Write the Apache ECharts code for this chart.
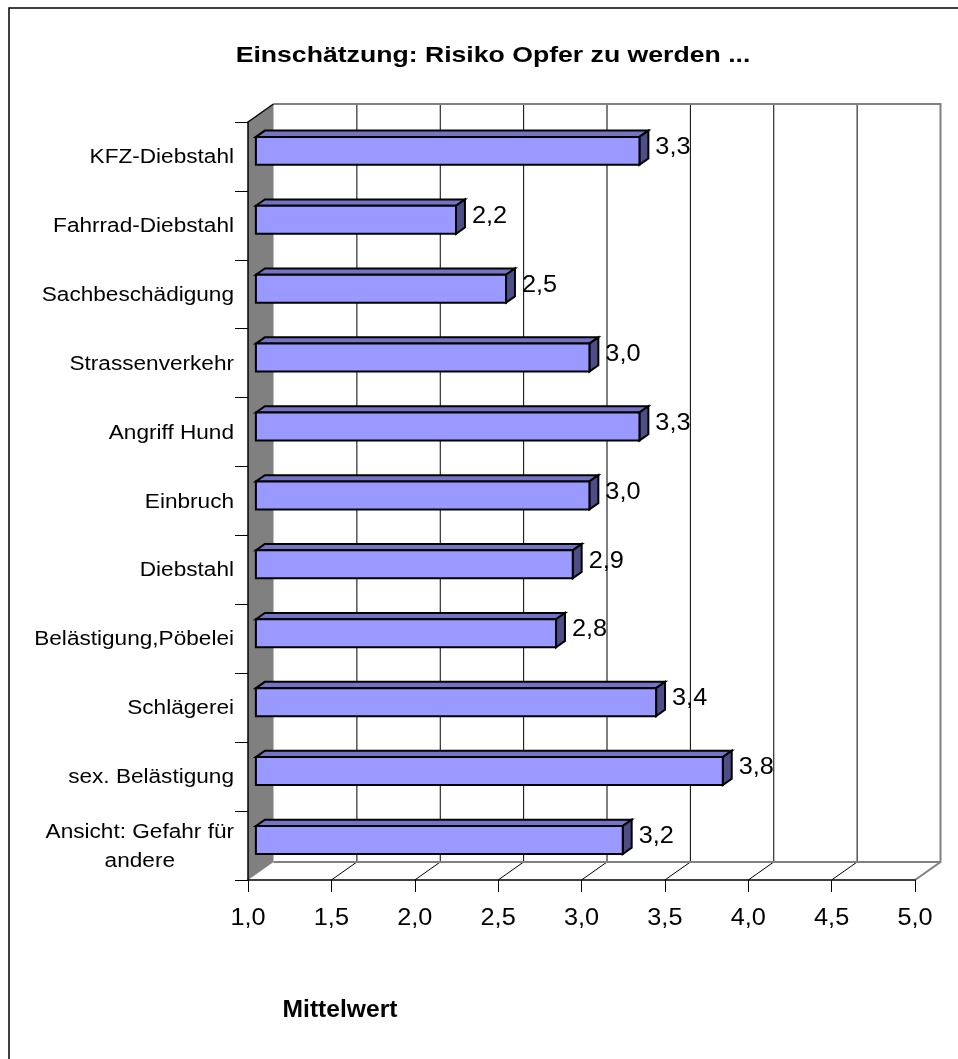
<!DOCTYPE html>
<html>
<head>
<meta charset="utf-8">
<title>Einschätzung: Risiko Opfer zu werden</title>
<script src="https://cdn.jsdelivr.net/npm/echarts@6/dist/echarts.min.js"></script>
<style>
  html, body { margin: 0; padding: 0; background: #fff; }
  #chart { width: 958px; height: 1059px; }
</style>
</head>
<body>
<div id="chart"></div>
<script>
// Survey means: perceived risk of becoming a victim
const categories = [
  'KFZ-Diebstahl',
  'Fahrrad-Diebstahl',
  'Sachbeschädigung',
  'Strassenverkehr',
  'Angriff Hund',
  'Einbruch',
  'Diebstahl',
  'Belästigung,Pöbelei',
  'Schlägerei',
  'sex. Belästigung',
  'Ansicht: Gefahr für\nandere'
];
const meanValues = [3.3, 2.2, 2.5, 3.0, 3.3, 3.0, 2.9, 2.8, 3.4, 3.8, 3.2];
const xTicks = [1.0, 1.5, 2.0, 2.5, 3.0, 3.5, 4.0, 4.5, 5.0];
const titleText = 'Einschätzung: Risiko Opfer zu werden ...';
const axisTitleText = 'Mittelwert';

// Pseudo-3D projection: shift per unit of depth
const DX = 25.5;
const DY = -18;
const BAR_FRONT = 0.31;   // depth of the bar's front face
const BAR_BACK = 0.66;    // depth of the bar's back face
const BAR_SHARE = 0.406;  // bar height as share of a category band

const FONT = '"Liberation Sans", Arial, Helvetica, sans-serif';
const fmt = v => v.toFixed(1).replace('.', ',');

function depth(pt, f) {
  return [pt[0] + DX * f, pt[1] + DY * f];
}

function seg(a, b) {
  return { x1: a[0], y1: a[1], x2: b[0], y2: b[1] };
}

// Back wall, side wall, floor and their grid lines
function renderWalls(params, api) {
  const cs = params.coordSys;
  const top = cs.y, bot = cs.y + cs.height;
  const xL = api.coord([xTicks[0], 0])[0];
  const xR = api.coord([xTicks[xTicks.length - 1], 0])[0];
  const children = [];
  // back wall
  children.push({
    type: 'polygon',
    shape: { points: [depth([xL, top], 1), depth([xR, top], 1), depth([xR, bot], 1), depth([xL, bot], 1)] },
    style: { fill: '#ffffff', stroke: 'none' }
  });
  // floor
  children.push({
    type: 'polygon',
    shape: { points: [[xL, bot], depth([xL, bot], 1), depth([xR, bot], 1), [xR, bot]] },
    style: { fill: '#ffffff', stroke: 'none' }
  });
  // vertical grid lines on the back wall + diagonals across the floor
  xTicks.forEach((t, i) => {
    const x = api.coord([t, 0])[0];
    if (i > 0 && i < xTicks.length - 1) {
      children.push({
        type: 'line',
        shape: seg(depth([x, top], 1), depth([x, bot], 1)),
        style: { stroke: '#000000', lineWidth: 1 }
      });
      children.push({
        type: 'line',
        shape: seg([x, bot], depth([x, bot], 1)),
        style: { stroke: '#000000', lineWidth: 1 }
      });
    }
  });
  // wall and floor borders
  children.push({
    type: 'polyline',
    shape: { points: [depth([xL, top], 1), depth([xR, top], 1), depth([xR, bot], 1), [xR, bot]] },
    style: { stroke: '#808080', lineWidth: 2, fill: 'none' }
  });
  children.push({
    type: 'line',
    shape: seg(depth([xL, bot], 1), depth([xR, bot], 1)),
    style: { stroke: '#808080', lineWidth: 2 }
  });
  // side wall
  children.push({
    type: 'polygon',
    shape: { points: [[xL, top], depth([xL, top], 1), depth([xL, bot], 1), [xL, bot]] },
    style: { fill: '#808080', stroke: 'none' }
  });
  children.push({
    type: 'line',
    shape: seg([xL, top], depth([xL, top], 1)),
    style: { stroke: '#000000', lineWidth: 1.5 }
  });
  return { type: 'group', children };
}

// One 3D bar: front, top and end faces plus its value label
function renderBar(params, api) {
  const v = api.value(0);
  const c = api.value(1);
  const start = api.coord([xTicks[0], c]);
  const end = api.coord([v, c]);
  const h = api.size([0, 1])[1] * BAR_SHARE;
  const yT = start[1] - h / 2, yB = start[1] + h / 2;
  const x0 = start[0], x1 = end[0];
  const f1 = BAR_FRONT, f2 = BAR_BACK;
  const edge = { stroke: '#000000', lineWidth: 2, lineJoin: 'miter' };
  const label = depth([x1, start[1]], f2);
  return {
    type: 'group',
    children: [
      {
        type: 'polygon',
        shape: { points: [depth([x0, yT], f1), depth([x0, yT], f2), depth([x1, yT], f2), depth([x1, yT], f1)] },
        style: Object.assign({ fill: '#7474c4' }, edge)
      },
      {
        type: 'polygon',
        shape: { points: [depth([x1, yT], f1), depth([x1, yT], f2), depth([x1, yB], f2), depth([x1, yB], f1)] },
        style: Object.assign({ fill: '#4d4d87' }, edge)
      },
      {
        type: 'polygon',
        shape: { points: [depth([x0, yT], f1), depth([x1, yT], f1), depth([x1, yB], f1), depth([x0, yB], f1)] },
        style: Object.assign({ fill: '#9999ff' }, edge)
      },
      {
        type: 'text',
        x: label[0] + 7,
        y: start[1] + DY * (f1 + f2) / 2,
        scaleX: 1.1,
        style: {
          text: fmt(v), x: 0, y: 0,
          font: '23px ' + FONT, fill: '#000000',
          align: 'left', verticalAlign: 'middle',
          textAlign: 'left', textVerticalAlign: 'middle'
        }
      }
    ]
  };
}

// Category names left of the side wall
function renderCategoryLabel(params, api) {
  const c = api.value(1);
  const pt = api.coord([xTicks[0], c]);
  const name = categories[c];
  const rich = name.split('\n').map(s => '{c|' + s + '}').join('\n');
  return {
    type: 'text',
    x: params.coordSys.x - 14,
    y: pt[1] + 1,
    scaleX: 1.13,
    style: {
      text: rich, x: 0, y: 0,
      fill: '#000000',
      font: '20px ' + FONT,
      align: 'right', verticalAlign: 'middle',
      textAlign: 'right', textVerticalAlign: 'middle',
      rich: { c: { align: 'center', font: '20px ' + FONT, lineHeight: 29, fill: '#000000' } }
    }
  };
}

// Value tick labels under the front axis
function renderTickLabel(params, api) {
  const t = api.value(0);
  const x = api.coord([t, 0])[0];
  const cs = params.coordSys;
  return {
    type: 'text',
    x: x,
    y: cs.y + cs.height + 39,
    scaleX: 1.1,
    style: {
      text: fmt(t), x: 0, y: 0,
      fill: '#000000',
      font: '23px ' + FONT,
      align: 'center', verticalAlign: 'middle',
      textAlign: 'center', textVerticalAlign: 'middle'
    }
  };
}

const chart = echarts.init(document.getElementById('chart'), null, { renderer: 'canvas' });

chart.setOption({
  animation: false,
  backgroundColor: '#ffffff',
  grid: { left: 248, top: 122, width: 667, height: 758, outerBoundsMode: 'none', containLabel: false },
  xAxis: {
    type: 'value',
    min: 1,
    max: 5,
    interval: 0.5,
    z: 2,
    axisLine: { show: true, onZero: false, lineStyle: { color: '#000000', width: 1.5 } },
    axisTick: { show: true, length: 12, lineStyle: { color: '#000000', width: 1 } },
    axisLabel: { show: false },
    splitLine: { show: false }
  },
  yAxis: {
    type: 'category',
    inverse: true,
    data: categories,
    z: 2,
    axisLine: { show: true, onZero: false, lineStyle: { color: '#000000', width: 1.5 } },
    axisTick: { show: true, length: 13, lineStyle: { color: '#000000', width: 1 } },
    axisLabel: { show: false },
    splitLine: { show: false }
  },
  graphic: [
    {
      type: 'rect',
      shape: { x: 9, y: 8, width: 1000, height: 1100 },
      style: { fill: 'none', stroke: '#000000', lineWidth: 1.5 },
      z: 0
    },
    {
      type: 'text',
      x: 493,
      y: 56,
      scaleX: 1.21,
      style: {
        text: titleText, x: 0, y: 0,
        font: 'bold 22px ' + FONT, fill: '#000000',
        align: 'center', verticalAlign: 'middle',
        textAlign: 'center', textVerticalAlign: 'middle'
      }
    },
    {
      type: 'text',
      x: 340,
      y: 1011,
      scaleX: 1.07,
      style: {
        text: axisTitleText, x: 0, y: 0,
        font: 'bold 23px ' + FONT, fill: '#000000',
        align: 'center', verticalAlign: 'middle',
        textAlign: 'center', textVerticalAlign: 'middle'
      }
    }
  ],
  series: [
    {
      name: 'walls',
      type: 'custom',
      z: 1,
      clip: false,
      silent: true,
      renderItem: renderWalls,
      data: [[xTicks[0], 0]]
    },
    {
      name: 'Mittelwert',
      type: 'custom',
      z: 3,
      clip: false,
      renderItem: renderBar,
      encode: { x: 0, y: 1 },
      data: meanValues.map((v, i) => [v, i])
    },
    {
      name: 'categoryLabels',
      type: 'custom',
      z: 3,
      clip: false,
      silent: true,
      renderItem: renderCategoryLabel,
      encode: { x: 0, y: 1 },
      data: categories.map((c, i) => [xTicks[0], i])
    },
    {
      name: 'tickLabels',
      type: 'custom',
      z: 3,
      clip: false,
      silent: true,
      renderItem: renderTickLabel,
      encode: { x: 0, y: 1 },
      data: xTicks.map(t => [t, 0])
    }
  ]
});
</script>
</body>
</html>
